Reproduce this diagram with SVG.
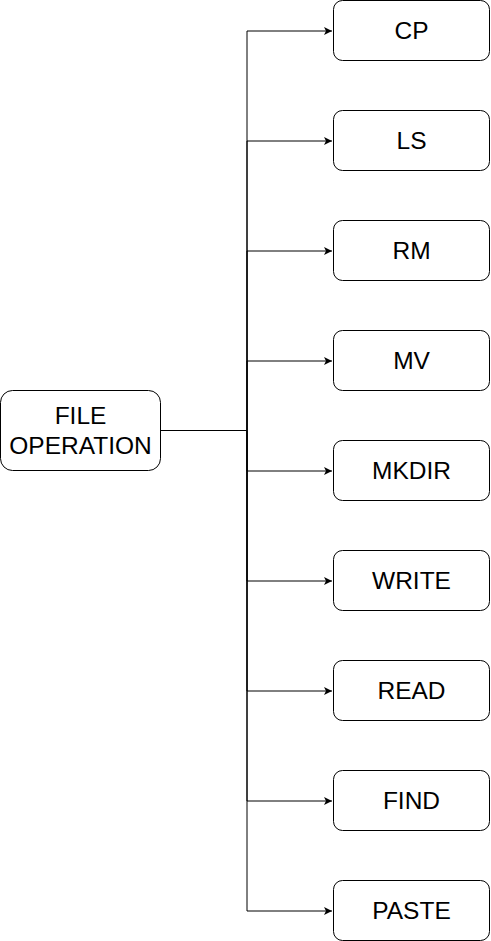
<svg xmlns="http://www.w3.org/2000/svg" width="491" height="941" viewBox="0 0 491 941">
<style>
.box{fill:#fff;stroke:#000;stroke-width:1}
.t{font-family:"Liberation Sans",Arial,sans-serif;font-size:24.5px;fill:#000;text-anchor:middle}
.c{fill:none;stroke:#000;stroke-width:1}
</style>
<defs>
<marker id="a" markerUnits="userSpaceOnUse" markerWidth="10" markerHeight="10" refX="8" refY="4" orient="auto" viewBox="0 0 10 8">
<path d="M0,0 L8,4 L0,8 L2,4 Z" fill="#000"/>
</marker>
</defs>
<rect width="491" height="941" fill="#fff"/>
<g id="connectors">
<path class="c" d="M160.5,430.5 H247 V31 H332" marker-end="url(#a)"/>
<path class="c" d="M160.5,430.5 H247 V141 H332" marker-end="url(#a)"/>
<path class="c" d="M160.5,430.5 H247 V251 H332" marker-end="url(#a)"/>
<path class="c" d="M160.5,430.5 H247 V361 H332" marker-end="url(#a)"/>
<path class="c" d="M160.5,430.5 H247 V471 H332" marker-end="url(#a)"/>
<path class="c" d="M160.5,430.5 H247 V581 H332" marker-end="url(#a)"/>
<path class="c" d="M160.5,430.5 H247 V691 H332" marker-end="url(#a)"/>
<path class="c" d="M160.5,430.5 H247 V801 H332" marker-end="url(#a)"/>
<path class="c" d="M160.5,430.5 H247 V911 H332" marker-end="url(#a)"/>
</g>
<g id="file-operation">
<rect class="box" x="0.5" y="390.5" width="160" height="80" rx="12"/>
<text class="t" x="80.5" y="424">FILE</text>
<text class="t" x="80.5" y="454">OPERATION</text>
</g>
<g id="cp"><rect class="box" x="333.5" y="0.5" width="156" height="60" rx="9"/><text class="t" x="411.5" y="39">CP</text></g>
<g id="ls"><rect class="box" x="333.5" y="110.5" width="156" height="60" rx="9"/><text class="t" x="411.5" y="149">LS</text></g>
<g id="rm"><rect class="box" x="333.5" y="220.5" width="156" height="60" rx="9"/><text class="t" x="411.5" y="259">RM</text></g>
<g id="mv"><rect class="box" x="333.5" y="330.5" width="156" height="60" rx="9"/><text class="t" x="411.5" y="369">MV</text></g>
<g id="mkdir"><rect class="box" x="333.5" y="440.5" width="156" height="60" rx="9"/><text class="t" x="411.5" y="479">MKDIR</text></g>
<g id="write"><rect class="box" x="333.5" y="550.5" width="156" height="60" rx="9"/><text class="t" x="411.5" y="589">WRITE</text></g>
<g id="read"><rect class="box" x="333.5" y="660.5" width="156" height="60" rx="9"/><text class="t" x="411.5" y="699">READ</text></g>
<g id="find"><rect class="box" x="333.5" y="770.5" width="156" height="60" rx="9"/><text class="t" x="411.5" y="809">FIND</text></g>
<g id="paste"><rect class="box" x="333.5" y="880.5" width="156" height="60" rx="9"/><text class="t" x="411.5" y="919">PASTE</text></g>
</svg>
